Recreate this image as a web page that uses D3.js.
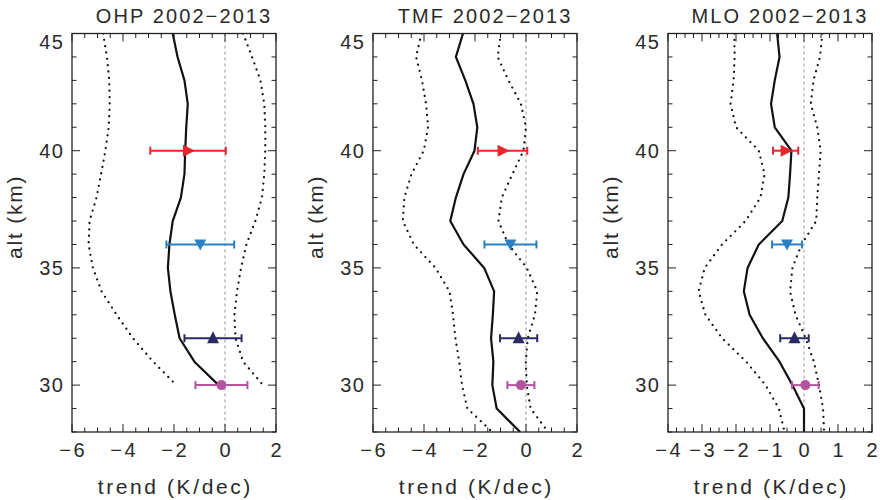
<!DOCTYPE html>
<html>
<head>
<meta charset="utf-8">
<script src="https://cdn.jsdelivr.net/npm/d3@7"></script>
<style>
  html, body { margin: 0; padding: 0; background: #fff; }
  svg text { font-family: "Liberation Sans", Arial, sans-serif; fill: #2a2a2a; }
</style>
</head>
<body>
<svg id="chart" width="880" height="500"></svg>
<script>
// Altitude levels (km), top to bottom
const altOHP = [45, 44, 43, 42, 41, 40, 39, 38, 37, 36, 35, 34, 33, 32, 31, 30];
const altTMF = [45, 44, 43, 42, 41, 40, 39, 38, 37, 36, 35, 34, 33, 32, 31, 30, 29, 28];
const altMLO = [45, 44, 43, 42, 41, 40, 39, 38, 37, 36, 35, 34, 33, 32, 31, 30, 29, 28];

// OHP lidar trend profile (K/decade) with lower/upper uncertainty envelope
const ohpTrend = [-2.05, -1.86, -1.59, -1.46, -1.52, -1.56, -1.59, -1.73, -2.05, -2.18, -2.24, -2.14, -1.97, -1.78, -1.20, -0.25];
const ohpLow   = [-4.78, -4.63, -4.54, -4.52, -4.56, -4.69, -4.86, -5.04, -5.31, -5.35, -5.18, -4.84, -4.25, -3.61, -2.82, -1.91];
const ohpHigh  = [0.71, 1.06, 1.39, 1.54, 1.58, 1.58, 1.54, 1.45, 1.19, 0.84, 0.63, 0.47, 0.37, 0.41, 0.71, 1.49];

// TMF lidar trend profile
const tmfTrend = [-2.47, -2.75, -2.38, -2.06, -1.91, -2.02, -2.45, -2.75, -2.97, -2.45, -1.64, -1.25, -1.30, -1.37, -1.28, -1.32, -1.15, -0.23];
const tmfLow   = [-4.10, -4.31, -4.08, -3.92, -3.84, -4.01, -4.49, -4.77, -4.83, -4.40, -3.55, -3.00, -2.86, -2.77, -2.62, -2.51, -2.30, -1.32];
const tmfHigh  = [-0.99, -1.11, -0.69, -0.20, 0.00, -0.10, -0.53, -0.95, -1.08, -0.69, 0.03, 0.44, 0.35, 0.07, -0.01, 0.03, 0.18, 0.87];

// MLO lidar trend profile
const mloTrend = [-0.79, -0.72, -0.86, -0.97, -0.86, -0.37, -0.41, -0.46, -0.64, -1.33, -1.66, -1.77, -1.60, -1.21, -0.72, -0.34, 0.00, 0.00];
const mloLow   = [-2.05, -2.04, -2.07, -2.16, -2.00, -1.33, -1.16, -1.28, -1.72, -2.41, -2.92, -3.10, -2.90, -2.41, -1.70, -1.13, -0.74, -0.57];
const mloHigh  = [0.54, 0.47, 0.28, 0.20, 0.39, 0.49, 0.44, 0.39, 0.36, -0.07, -0.34, -0.41, -0.25, 0.05, 0.29, 0.44, 0.56, 0.59];

// Layer-mean trends with uncertainty (altitude, value, half-width)
const layerAlt = [40, 36, 32, 30];
const layerSymbol = ["triRight", "triDown", "triUp", "circle"];
const layerColor = ["#e5262d", "#2a80c2", "#2c2a64", "#b4549e"];
const ohpLayer = [-1.45, -0.97, -0.47, -0.14];
const ohpLayerErr = [1.48, 1.33, 1.12, 1.02];
const tmfLayer = [-0.92, -0.61, -0.29, -0.20];
const tmfLayerErr = [0.97, 1.02, 0.73, 0.53];
const mloLayer = [-0.54, -0.50, -0.28, 0.04];
const mloLayerErr = [0.37, 0.44, 0.42, 0.39];

// Panel titles and x-axis ranges
const titles = ["OHP 2002\u22122013", "TMF 2002\u22122013", "MLO 2002\u22122013"];
const xDomains = [[-6, 2], [-6, 2], [-4, 2]];
const xMajorTicks = [[-6, -4, -2, 0, 2], [-6, -4, -2, 0, 2], [-4, -3, -2, -1, 0, 1, 2]];
const xMinorStep = [0.5, 0.5, 0.25];
const yTicks = [30, 35, 40, 45];

const panels = [
  { left: 72,  alt: altOHP, trend: ohpTrend, low: ohpLow, high: ohpHigh, layer: ohpLayer, err: ohpLayerErr },
  { left: 373, alt: altTMF, trend: tmfTrend, low: tmfLow, high: tmfHigh, layer: tmfLayer, err: tmfLayerErr },
  { left: 668, alt: altMLO, trend: mloTrend, low: mloLow, high: mloHigh, layer: mloLayer, err: mloLayerErr }
];

const svg = d3.select("#chart");
const W = 204, plotTop = 33.5, plotBottom = 432;
const y = d3.scaleLinear().domain([28, 45]).range([plotBottom, plotTop]);
const fmt = d3.format("");

// spaced text helper: letter-spacing adds trailing space, so nudge by half of it
function label(sel, x, yPos, str, size, spacing, anchor) {
  const t = sel.append("text").attr("x", x).attr("y", yPos)
    .attr("font-size", size).attr("letter-spacing", spacing)
    .attr("text-anchor", anchor || "middle").text(str);
  if ((anchor || "middle") === "middle") t.attr("dx", spacing / 2);
  if (anchor === "end") t.attr("dx", spacing);
  return t;
}

panels.forEach((p, i) => {
  const x = d3.scaleLinear().domain(xDomains[i]).range([p.left, p.left + W]);
  const g = svg.append("g");

  // clip region for the curves
  const clipId = "clip" + i;
  svg.append("clipPath").attr("id", clipId)
    .append("rect").attr("x", p.left).attr("y", plotTop).attr("width", W).attr("height", plotBottom - plotTop);

  // zero reference line
  g.append("line")
    .attr("x1", x(0)).attr("x2", x(0)).attr("y1", plotTop).attr("y2", plotBottom)
    .attr("stroke", "#aaa").attr("stroke-width", 1.2).attr("stroke-dasharray", "3,3");

  const line = d3.line().x(d => x(d[0])).y(d => y(d[1]));
  const curves = g.append("g").attr("clip-path", `url(#${clipId})`);
  [p.low, p.high].forEach(arr => {
    curves.append("path")
      .attr("d", line(arr.map((v, k) => [v, p.alt[k]])))
      .attr("fill", "none").attr("stroke", "#111").attr("stroke-width", 2.3)
      .attr("stroke-linecap", "round").attr("stroke-dasharray", "0,6.4");
  });
  curves.append("path")
    .attr("d", line(p.trend.map((v, k) => [v, p.alt[k]])))
    .attr("fill", "none").attr("stroke", "#111").attr("stroke-width", 2.2)
    .attr("stroke-linejoin", "round");

  // layer-mean trends with error bars
  layerAlt.forEach((a, k) => {
    const c = layerColor[k];
    const yy = y(a);
    const x0 = x(p.layer[k] - p.err[k]), x1 = x(p.layer[k] + p.err[k]);
    g.append("line").attr("x1", x0).attr("x2", x1).attr("y1", yy).attr("y2", yy)
      .attr("stroke", c).attr("stroke-width", 2);
    [x0, x1].forEach(xc => g.append("line")
      .attr("x1", xc).attr("x2", xc).attr("y1", yy - 4).attr("y2", yy + 4)
      .attr("stroke", c).attr("stroke-width", 2));
    const cx = x(p.layer[k]);
    const s = layerSymbol[k];
    if (s === "circle") {
      g.append("circle").attr("cx", cx).attr("cy", yy).attr("r", 5).attr("fill", c);
    } else {
      let pts;
      if (s === "triRight") pts = [[cx - 5, yy - 6], [cx + 7, yy], [cx - 5, yy + 6]];
      if (s === "triDown") pts = [[cx - 6, yy - 5], [cx + 6, yy - 5], [cx, yy + 6]];
      if (s === "triUp") pts = [[cx - 6, yy + 5], [cx + 6, yy + 5], [cx, yy - 7]];
      g.append("polygon").attr("points", pts.map(q => q.join(",")).join(" ")).attr("fill", c);
    }
  });

  // frame
  g.append("rect").attr("x", p.left).attr("y", plotTop).attr("width", W).attr("height", plotBottom - plotTop)
    .attr("fill", "none").attr("stroke", "#222").attr("stroke-width", 1.3);

  // x ticks (inward, top and bottom)
  const [d0, d1] = xDomains[i];
  const minor = d3.range(d0, d1 + 1e-9, xMinorStep[i]);
  minor.forEach(v => {
    const major = xMajorTicks[i].some(m => Math.abs(m - v) < 1e-9);
    const len = major ? 8 : 4.5;
    g.append("line").attr("x1", x(v)).attr("x2", x(v)).attr("y1", plotBottom).attr("y2", plotBottom - len)
      .attr("stroke", "#222").attr("stroke-width", 1);
    g.append("line").attr("x1", x(v)).attr("x2", x(v)).attr("y1", plotTop).attr("y2", plotTop + len)
      .attr("stroke", "#222").attr("stroke-width", 1);
  });
  xMajorTicks[i].forEach(v => label(g, x(v), 457, fmt(v), 20, 2.5));

  // y ticks (inward, both sides)
  d3.range(28, 45.001, 1).forEach(v => {
    const len = yTicks.includes(v) ? 8 : 4.5;
    g.append("line").attr("x1", p.left).attr("x2", p.left + len).attr("y1", y(v)).attr("y2", y(v))
      .attr("stroke", "#222").attr("stroke-width", 1);
    g.append("line").attr("x1", p.left + W).attr("x2", p.left + W - len).attr("y1", y(v)).attr("y2", y(v))
      .attr("stroke", "#222").attr("stroke-width", 1);
  });
  yTicks.forEach(v => {
    const cy = Math.max(y(v), plotTop + 8);
    label(g, p.left - 9, cy + 7, v, 20, 1.5, "end");
  });

  // titles and axis labels
  label(g, p.left + W / 2 + 9, 23, titles[i], 20, 2.1);
  label(g, p.left + W / 2, 494, "trend (K/dec)", 21, 2.6);
  g.append("text").attr("transform", `translate(${p.left - 50},${(plotTop + plotBottom) / 2 - 15}) rotate(-90)`)
    .attr("text-anchor", "middle").attr("font-size", 21).attr("letter-spacing", 1.8)
    .attr("dx", 0.9).text("alt (km)");
});
</script>
</body>
</html>
